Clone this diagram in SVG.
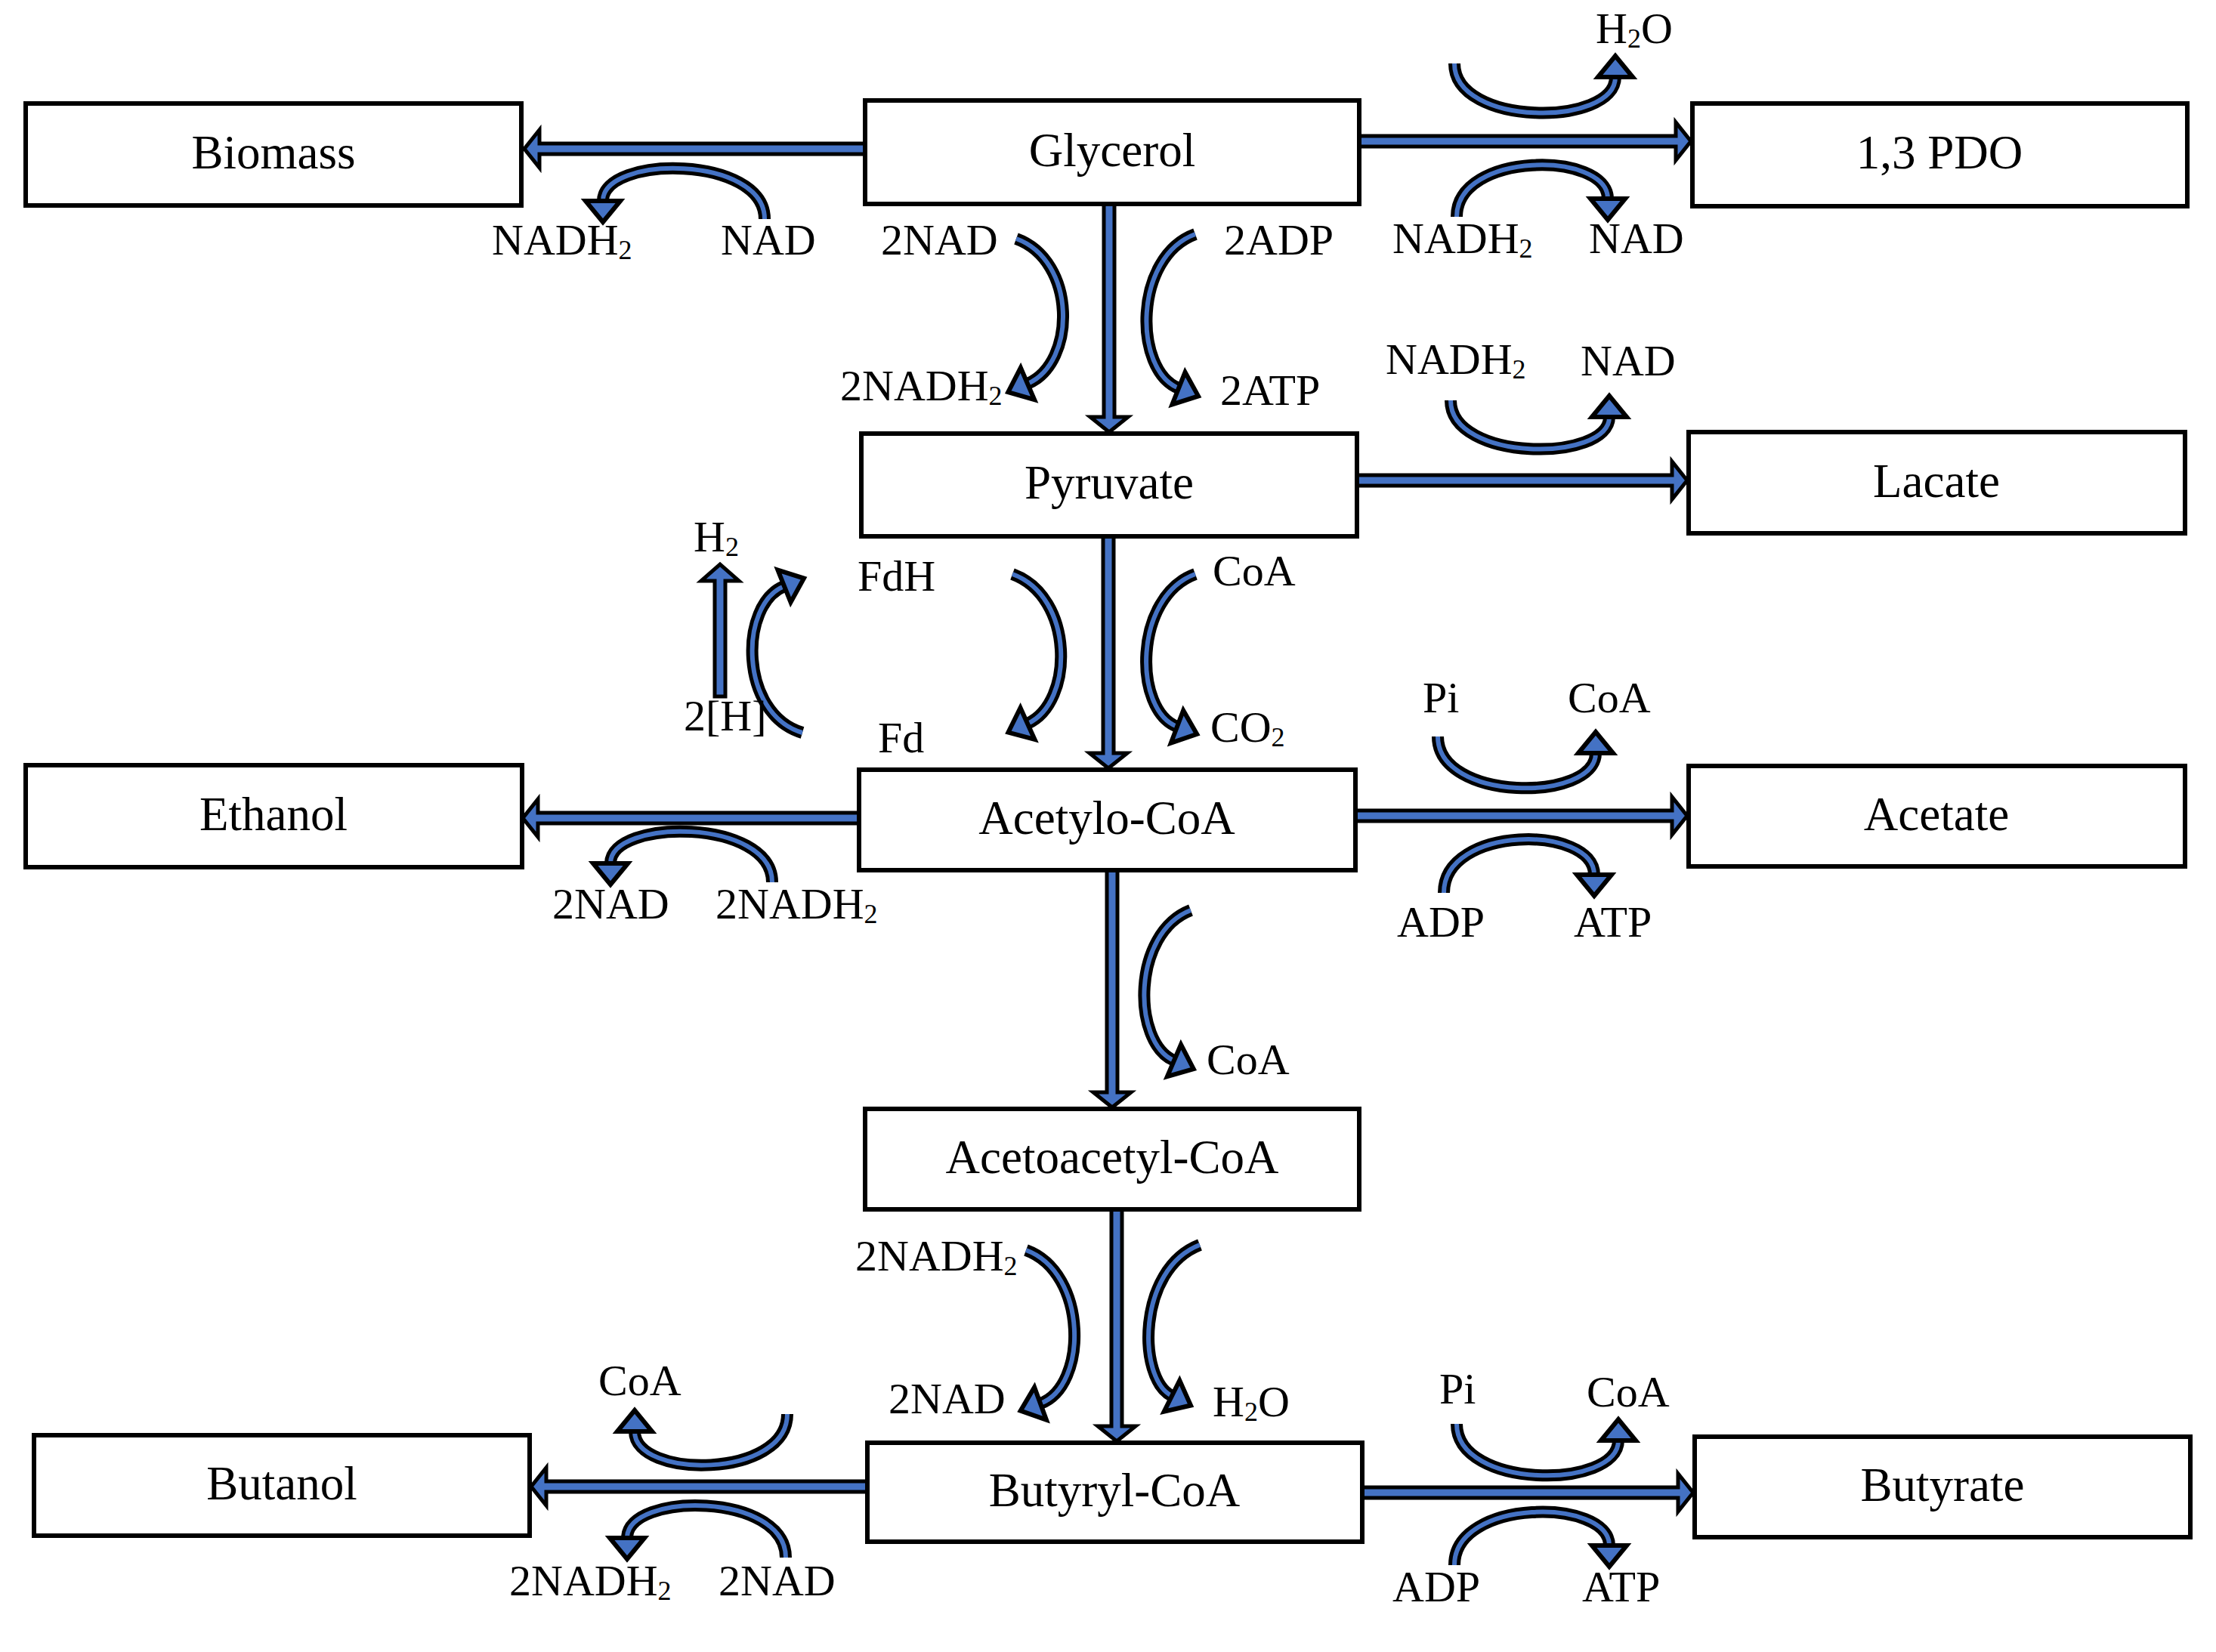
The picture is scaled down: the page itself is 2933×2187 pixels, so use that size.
<svg xmlns="http://www.w3.org/2000/svg" width="2933" height="2187" viewBox="0 0 2933 2187">
<style>
.box{fill:#fff;stroke:#000;stroke-width:6}
.bl{font-family:"Liberation Serif","Times New Roman",serif;font-size:63px;fill:#000;text-anchor:middle}
.lb{font-family:"Liberation Serif","Times New Roman",serif;font-size:58px;fill:#000}
.sub{font-size:36px}
.big{fill:#4472C4;stroke:#000;stroke-width:5;stroke-linejoin:miter}
.co{fill:none;stroke:#000;stroke-width:16}
.ci{fill:none;stroke:#4472C4;stroke-width:6;marker-end:url(#ah)}
</style>
<defs>
<marker id="ah" markerUnits="userSpaceOnUse" markerWidth="60" markerHeight="60" refX="4" refY="30" orient="auto" overflow="visible">
<path d="M4,7 L32,30 L4,53 Z" fill="#4472C4" stroke="#000" stroke-width="6" stroke-linejoin="miter"/>
</marker>
</defs>
<rect width="2933" height="2187" fill="#fff"/>

<g id="connectors">
<!-- main block arrows -->
<polygon class="big" points="1145,190 714,190 714,172 694,197 714,222 714,204 1145,204"/>
<polygon class="big" points="1799,180 2218,180 2218,162 2238,187 2218,212 2218,194 1799,194"/>
<polygon class="big" points="1796,629 2213,629 2213,611 2233,636 2213,661 2213,643 1796,643"/>
<polygon class="big" points="1137,1076 712,1076 712,1058 692,1083 712,1108 712,1090 1137,1090"/>
<polygon class="big" points="1794,1073 2213,1073 2213,1055 2233,1080 2213,1105 2213,1087 1794,1087"/>
<polygon class="big" points="1148,1961 723,1961 723,1943 703,1968 723,1993 723,1975 1148,1975"/>
<polygon class="big" points="1803,1969 2221,1969 2221,1951 2241,1976 2221,2001 2221,1983 1803,1983"/>
<polygon class="big" points="1461,270 1461,552 1443,552 1468,572 1493,552 1475,552 1475,270"/>
<polygon class="big" points="1460,710 1460,997 1442,997 1467,1017 1492,997 1474,997 1474,710"/>
<polygon class="big" points="1465,1152 1465,1446 1447,1446 1472,1466 1497,1446 1479,1446 1479,1152"/>
<polygon class="big" points="1471,1601 1471,1888 1453,1888 1478,1908 1503,1888 1485,1888 1485,1601"/>
<polygon class="big" points="946,922 946,769 928,769 953,747 978,769 960,769 960,922"/>

<!-- cofactor curved arrows -->
<path class="co" d="M1012 290 C1012 205 798 205 798 266"/>
<path class="ci" d="M1012 290 C1012 205 798 205 798 266"/>
<path class="co" d="M1925 84 C1925 168 2138 168 2138 102"/>
<path class="ci" d="M1925 84 C1925 168 2138 168 2138 102"/>
<path class="co" d="M1928 287 C1928 200 2128 200 2128 263"/>
<path class="ci" d="M1928 287 C1928 200 2128 200 2128 263"/>
<path class="co" d="M1345 316 C1425 345 1425 480 1360 508"/>
<path class="ci" d="M1345 316 C1425 345 1425 480 1360 508"/>
<path class="co" d="M1582 310 C1500 340 1500 490 1560 514"/>
<path class="ci" d="M1582 310 C1500 340 1500 490 1560 514"/>
<path class="co" d="M1920 530 C1920 612 2130 612 2130 552"/>
<path class="ci" d="M1920 530 C1920 612 2130 612 2130 552"/>
<path class="co" d="M1062 970 C978 945 978 800 1038 776"/>
<path class="ci" d="M1062 970 C978 945 978 800 1038 776"/>
<path class="co" d="M1340 760 C1422 790 1422 930 1360 958"/>
<path class="ci" d="M1340 760 C1422 790 1422 930 1360 958"/>
<path class="co" d="M1582 760 C1500 790 1500 940 1558 962"/>
<path class="ci" d="M1582 760 C1500 790 1500 940 1558 962"/>
<path class="co" d="M1022 1168 C1022 1083 808 1083 808 1143"/>
<path class="ci" d="M1022 1168 C1022 1083 808 1083 808 1143"/>
<path class="co" d="M1903 975 C1903 1062 2112 1062 2112 997"/>
<path class="ci" d="M1903 975 C1903 1062 2112 1062 2112 997"/>
<path class="co" d="M1911 1182 C1911 1092 2110 1092 2110 1158"/>
<path class="ci" d="M1911 1182 C1911 1092 2110 1092 2110 1158"/>
<path class="co" d="M1576 1205 C1498 1235 1498 1380 1554 1404"/>
<path class="ci" d="M1576 1205 C1498 1235 1498 1380 1554 1404"/>
<path class="co" d="M1358 1655 C1440 1685 1440 1835 1377 1858"/>
<path class="ci" d="M1358 1655 C1440 1685 1440 1835 1377 1858"/>
<path class="co" d="M1588 1648 C1505 1680 1505 1825 1551 1848"/>
<path class="ci" d="M1588 1648 C1505 1680 1505 1825 1551 1848"/>
<path class="co" d="M1042 1872 C1042 1958 840 1958 840 1895"/>
<path class="ci" d="M1042 1872 C1042 1958 840 1958 840 1895"/>
<path class="co" d="M1040 2062 C1040 1975 830 1975 830 2036"/>
<path class="ci" d="M1040 2062 C1040 1975 830 1975 830 2036"/>
<path class="co" d="M1928 1885 C1928 1972 2142 1972 2142 1907"/>
<path class="ci" d="M1928 1885 C1928 1972 2142 1972 2142 1907"/>
<path class="co" d="M1925 2072 C1925 1983 2130 1983 2130 2046"/>
<path class="ci" d="M1925 2072 C1925 1983 2130 1983 2130 2046"/>
</g>

<g id="node-biomass"><rect class="box" x="34" y="137" width="656" height="135"/><text class="bl" x="362" y="223">Biomass</text></g>
<g id="node-glycerol"><rect class="box" x="1145" y="133" width="654" height="137"/><text class="bl" x="1472" y="220">Glycerol</text></g>
<g id="node-pdo"><rect class="box" x="2240" y="137" width="655" height="136"/><text class="bl" x="2567" y="223">1,3 PDO</text></g>
<g id="node-pyruvate"><rect class="box" x="1140" y="574" width="656" height="136"/><text class="bl" x="1468" y="660">Pyruvate</text></g>
<g id="node-lacate"><rect class="box" x="2235" y="572" width="657" height="134"/><text class="bl" x="2563" y="658">Lacate</text></g>
<g id="node-ethanol"><rect class="box" x="34" y="1013" width="657" height="135"/><text class="bl" x="362" y="1099">Ethanol</text></g>
<g id="node-acetylcoa"><rect class="box" x="1137" y="1019" width="657" height="133"/><text class="bl" x="1465" y="1104">Acetylo-CoA</text></g>
<g id="node-acetate"><rect class="box" x="2235" y="1014" width="657" height="133"/><text class="bl" x="2563" y="1099">Acetate</text></g>
<g id="node-acetoacetylcoa"><rect class="box" x="1145" y="1468" width="654" height="133"/><text class="bl" x="1472" y="1553">Acetoacetyl-CoA</text></g>
<g id="node-butanol"><rect class="box" x="45" y="1900" width="656" height="133"/><text class="bl" x="373" y="1985">Butanol</text></g>
<g id="node-butyrylcoa"><rect class="box" x="1148" y="1910" width="655" height="131"/><text class="bl" x="1475" y="1994">Butyryl-CoA</text></g>
<g id="node-butyrate"><rect class="box" x="2243" y="1902" width="656" height="133"/><text class="bl" x="2571" y="1987">Butyrate</text></g>

<g id="labels">
<text class="lb" x="651" y="337">NADH<tspan class="sub" dy="6">2</tspan></text>
<text class="lb" x="954" y="337">NAD</text>
<text class="lb" x="1166" y="337">2NAD</text>
<text class="lb" x="1620" y="337">2ADP</text>
<text class="lb" x="1843" y="335">NADH<tspan class="sub" dy="6">2</tspan></text>
<text class="lb" x="2103" y="335">NAD</text>
<text class="lb" x="2112" y="57">H<tspan class="sub" dy="6">2</tspan><tspan dy="-6">O</tspan></text>
<text class="lb" x="1112" y="530">2NADH<tspan class="sub" dy="6">2</tspan></text>
<text class="lb" x="1615" y="536">2ATP</text>
<text class="lb" x="1834" y="495">NADH<tspan class="sub" dy="6">2</tspan></text>
<text class="lb" x="2092" y="497">NAD</text>
<text class="lb" x="918" y="730">H<tspan class="sub" dy="6">2</tspan></text>
<text class="lb" x="1135" y="782">FdH</text>
<text class="lb" x="1605" y="775">CoA</text>
<text class="lb" x="905" y="967">2[H]</text>
<text class="lb" x="1162" y="996">Fd</text>
<text class="lb" x="1602" y="982">CO<tspan class="sub" dy="6">2</tspan></text>
<text class="lb" x="731" y="1216">2NAD</text>
<text class="lb" x="947" y="1216">2NADH<tspan class="sub" dy="6">2</tspan></text>
<text class="lb" x="1883" y="943">Pi</text>
<text class="lb" x="2075" y="943">CoA</text>
<text class="lb" x="1849" y="1240">ADP</text>
<text class="lb" x="2083" y="1240">ATP</text>
<text class="lb" x="1597" y="1422">CoA</text>
<text class="lb" x="1132" y="1682">2NADH<tspan class="sub" dy="6">2</tspan></text>
<text class="lb" x="1176" y="1871">2NAD</text>
<text class="lb" x="1605" y="1875">H<tspan class="sub" dy="6">2</tspan><tspan dy="-6">O</tspan></text>
<text class="lb" x="792" y="1847">CoA</text>
<text class="lb" x="674" y="2112">2NADH<tspan class="sub" dy="6">2</tspan></text>
<text class="lb" x="951" y="2112">2NAD</text>
<text class="lb" x="1905" y="1858">Pi</text>
<text class="lb" x="2100" y="1862">CoA</text>
<text class="lb" x="1843" y="2120">ADP</text>
<text class="lb" x="2094" y="2120">ATP</text>
</g>
</svg>
